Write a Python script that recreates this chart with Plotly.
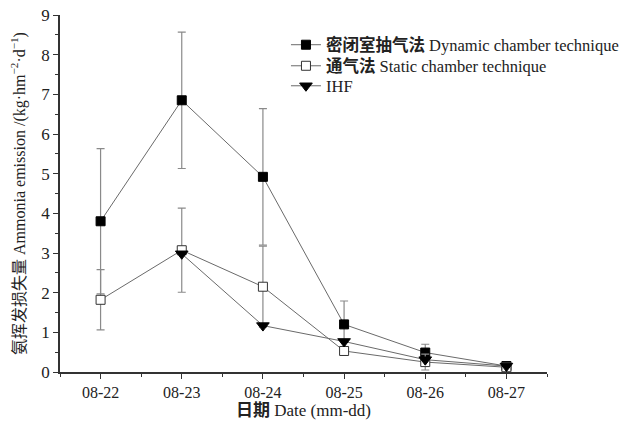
import plotly.graph_objects as go

dates = ["08-22", "08-23", "08-24", "08-25", "08-26", "08-27"]
x_idx = [0, 1, 2, 3, 4, 5]

dynamic = [3.80, 6.85, 4.92, 1.20, 0.49, 0.15]
dynamic_err = [1.83, 1.72, 1.72, 0.59, 0.21, 0.03]

static = [1.82, 3.07, 2.15, 0.53, 0.25, 0.12]
static_err = [0.76, 1.06, 1.02, 0.08, 0.20, 0.04]

ihf_x = [1, 2, 3, 4, 5]
ihf = [2.98, 1.17, 0.77, 0.31, 0.15]

y_ticks = [0, 1, 2, 3, 4, 5, 6, 7, 8, 9]

FONT = "Liberation Serif, Times New Roman, Noto Sans CJK SC, serif"
LINE = "#6a6a6a"
ERR = "#8a8a8a"
TXT = "#222222"

W, H = 626, 415  # page has an 8px body margin

fig = go.Figure()

fig.add_trace(go.Scatter(
    x=x_idx, y=dynamic, mode="lines+markers",
    name="<b>密闭室抽气法</b> Dynamic chamber technique", legend="legend",
    line=dict(color=LINE, width=1),
    marker=dict(symbol="square", size=9, color="black", line=dict(color="black", width=1)),
    error_y=dict(type="data", array=dynamic_err, visible=True, color=ERR, thickness=1.2, width=4),
))
fig.add_trace(go.Scatter(
    x=x_idx, y=static, mode="lines+markers",
    name="<b>通气法</b> Static chamber technique", legend="legend2",
    line=dict(color=LINE, width=1),
    marker=dict(symbol="square", size=9, color="white", line=dict(color="#333", width=1)),
    error_y=dict(type="data", array=static_err, visible=True, color=ERR, thickness=1.2, width=4),
))
fig.add_trace(go.Scatter(
    x=ihf_x, y=ihf, mode="lines+markers",
    name="IHF", legend="legend3",
    line=dict(color=LINE, width=1),
    marker=dict(symbol="triangle-down", size=11, color="black", line=dict(color="black", width=1)),
))

def leg(yc):
    return dict(
        x=0.464, y=yc, xanchor="left", yanchor="middle",
        bgcolor="rgba(0,0,0,0)", font=dict(size=16.5, family=FONT, color=TXT),
        itemwidth=30,
    )

fig.update_layout(
    width=W, height=H,
    margin=dict(l=52, r=87, t=7, b=51),
    paper_bgcolor="white", plot_bgcolor="white",
    font=dict(family=FONT, size=16, color=TXT),
    showlegend=True,
    legend=leg(0.916),
    legend2=leg(0.857),
    legend3=leg(0.801),
    xaxis=dict(
        range=[-0.5, 5.5], tickmode="array", tickvals=x_idx, ticktext=dates,
        showline=True, linecolor="#333", linewidth=1.5, mirror=False,
        ticks="outside", ticklen=5, tickcolor="#333", tickwidth=1,
        minor=dict(tickmode="array", tickvals=[-0.5, 0.5, 1.5, 2.5, 3.5, 4.5, 5.5],
                   ticks="outside", ticklen=3, tickcolor="#333", showgrid=False),
        showgrid=False, zeroline=False, automargin=False,
        ticklabeloverflow="allow",
        title=dict(text="<b>日期</b> Date (mm-dd)", font=dict(size=17, color=TXT), standoff=2),
        tickfont=dict(size=16, color=TXT),
    ),
    yaxis=dict(
        range=[0, 9], tickmode="array", tickvals=y_ticks,
        showline=True, linecolor="#333", linewidth=1.5,
        ticks="outside", ticklen=5, tickcolor="#333", tickwidth=1,
        minor=dict(dtick=0.5, tick0=0, ticks="outside", ticklen=3, tickcolor="#333", showgrid=False),
        showgrid=False, zeroline=False, automargin=False,
        ticklabeloverflow="allow",
        title=dict(text="氨挥发损失量 Ammonia emission /(kg·hm<sup>−2</sup>·d<sup>−1</sup>)",
                   font=dict(size=16, color=TXT), standoff=14),
        tickfont=dict(size=17, color=TXT),
    ),
)

fig.write_html("out.html")
